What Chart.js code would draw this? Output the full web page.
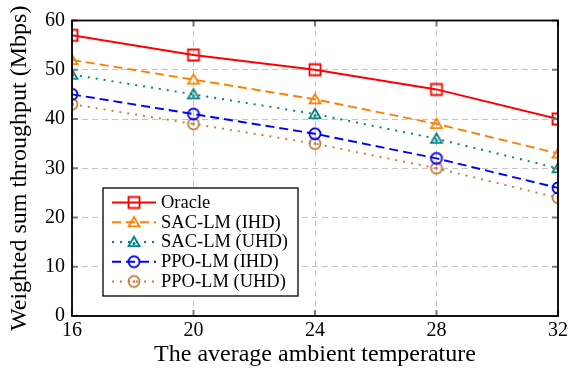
<!DOCTYPE html>
<html>
<head>
<meta charset="utf-8">
<script src="https://cdn.jsdelivr.net/npm/chart.js@4/dist/chart.umd.min.js"></script>
<style>
  html, body { margin: 0; padding: 0; background: #fff; }
  #wrap { width: 568px; height: 374px; position: relative; }
</style>
</head>
<body>
<div id="wrap"><canvas id="c" width="568" height="374"></canvas></div>
<script>
const temperatures = [16, 20, 24, 28, 32];
const oracle = [57, 53, 50, 46, 40];
const sacIHD = [52, 48, 44, 39, 33];
const sacUHD = [49, 45, 41, 36, 30];
const ppoIHD = [45, 41, 37, 32, 26];
const ppoUHD = [43, 39, 35, 30, 24];
const yTicks = [0, 10, 20, 30, 40, 50, 60];
const seriesNames = ['Oracle', 'SAC-LM (IHD)', 'SAC-LM (UHD)', 'PPO-LM (IHD)', 'PPO-LM (UHD)'];

const FONT = '"Liberation Serif", "Times New Roman", serif';

function makeMarker(shape, color, dot) {
  const s = 18, c = document.createElement('canvas');
  c.width = s; c.height = s;
  const g = c.getContext('2d');
  g.strokeStyle = color; g.lineWidth = 1.8;
  const m = s / 2;
  g.beginPath();
  if (shape === 'square') {
    g.rect(m - 5.5, m - 5.5, 11, 11);
  } else if (shape === 'triangle') {
    const r = 6.3;
    for (let i = 0; i < 3; i++) {
      const a = -Math.PI / 2 + i * 2 * Math.PI / 3;
      const x = m + r * Math.cos(a), y = m + 1 + r * Math.sin(a);
      if (i === 0) g.moveTo(x, y); else g.lineTo(x, y);
    }
    g.closePath();
  } else {
    g.arc(m, m, 5.5, 0, Math.PI * 2);
  }
  g.stroke();
  if (dot) {
    g.fillStyle = color;
    g.beginPath();
    g.arc(m, shape === 'triangle' ? m + 1.5 : m, 1.5, 0, Math.PI * 2);
    g.fill();
  }
  return c;
}

const styles = [
  { color: '#ff0000', dash: [], marker: makeMarker('square', '#ff0000', false) },
  { color: '#ff8000', dash: [9, 5], marker: makeMarker('triangle', '#ff8000', false) },
  { color: '#008080', dash: [2, 6], marker: makeMarker('triangle', '#008080', true) },
  { color: '#0000ff', dash: [9, 5], marker: makeMarker('circle', '#0000ff', false) },
  { color: '#bf8040', dash: [2, 6], marker: makeMarker('circle', '#bf8040', true) }
];
const seriesData = [oracle, sacIHD, sacUHD, ppoIHD, ppoUHD];

const datasets = seriesData.map((d, i) => ({
  label: seriesNames[i],
  data: temperatures.map((t, j) => ({ x: t, y: d[j] })),
  borderColor: styles[i].color,
  backgroundColor: 'rgba(0,0,0,0)',
  borderWidth: 1.9,
  borderDash: styles[i].dash,
  pointStyle: styles[i].marker,
  pointRadius: 6,
  tension: 0,
  fill: false
}));

const framePlugin = {
  id: 'frame',
  afterDraw(chart) {
    const { ctx, chartArea: a, scales } = chart;
    ctx.save();
    ctx.strokeStyle = '#7a7a7a';
    ctx.lineWidth = 2;
    ctx.setLineDash([]);
    const L = 6;
    temperatures.forEach(t => {
      const x = scales.x.getPixelForValue(t);
      ctx.beginPath();
      ctx.moveTo(x, a.bottom); ctx.lineTo(x, a.bottom - L);
      ctx.moveTo(x, a.top); ctx.lineTo(x, a.top + L);
      ctx.stroke();
    });
    yTicks.forEach(v => {
      const y = scales.y.getPixelForValue(v);
      ctx.beginPath();
      ctx.moveTo(a.left, y); ctx.lineTo(a.left + L, y);
      ctx.moveTo(a.right, y); ctx.lineTo(a.right - L, y);
      ctx.stroke();
    });
    ctx.strokeStyle = '#000';
    ctx.lineWidth = 1.8;
    ctx.strokeRect(a.left, a.top, a.right - a.left, a.bottom - a.top);

    const bx = 103, by = 188, bw = 195, bh = 108;
    ctx.fillStyle = '#fff';
    ctx.fillRect(bx, by, bw, bh);
    ctx.strokeStyle = '#000';
    ctx.lineWidth = 1.3;
    ctx.strokeRect(bx, by, bw, bh);
    ctx.font = '18.5px ' + FONT;
    ctx.textBaseline = 'middle';
    ctx.textAlign = 'left';
    for (let i = 0; i < seriesNames.length; i++) {
      const y = by + 14.5 + i * 19.75;
      ctx.strokeStyle = styles[i].color;
      ctx.lineWidth = 1.9;
      ctx.setLineDash(styles[i].dash);
      ctx.beginPath();
      ctx.moveTo(bx + 9, y); ctx.lineTo(bx + 53, y);
      ctx.stroke();
      ctx.setLineDash([]);
      const mk = styles[i].marker;
      ctx.drawImage(mk, bx + 31 - mk.width / 2, y - mk.height / 2);
      ctx.fillStyle = '#000';
      ctx.fillText(seriesNames[i], bx + 58, y + 0.5);
    }
    ctx.restore();
  }
};

new Chart(document.getElementById('c'), {
  type: 'line',
  data: { datasets },
  options: {
    responsive: false,
    animation: false,
    events: [],
    layout: { padding: { left: 0, right: 10, top: 20.5, bottom: 0 } },
    plugins: { legend: { display: false }, tooltip: { enabled: false } },
    scales: {
      x: {
        type: 'linear',
        min: 16, max: 32,
        afterBuildTicks(scale) { scale.ticks = temperatures.map(v => ({ value: v })); },
        afterFit(scale) { scale.height = 58; scale.paddingLeft = 0; scale.paddingRight = 0; },
        grid: { color: '#c4c4c4', lineWidth: 1, drawTicks: false },
        border: { display: false, dash: [6, 4] },
        ticks: { color: '#000', font: { family: FONT, size: 20 }, padding: 3, maxRotation: 0 },
        title: { display: true, text: 'The average ambient temperature', color: '#000',
                 font: { family: FONT, size: 24 }, padding: { top: 0, bottom: 5 } }
      },
      y: {
        min: 0, max: 60,
        afterBuildTicks(scale) { scale.ticks = yTicks.map(v => ({ value: v })); },
        afterFit(scale) { scale.width = 72; scale.paddingTop = 0; scale.paddingBottom = 0; },
        grid: { color: '#c4c4c4', lineWidth: 1, drawTicks: false },
        border: { display: false, dash: [6, 4] },
        ticks: { color: '#000', font: { family: FONT, size: 20 }, padding: 7 },
        title: { display: true, text: 'Weighted sum throughput (Mbps)', color: '#000',
                 font: { family: FONT, size: 24 }, padding: { top: 5, bottom: 0 } }
      }
    }
  },
  plugins: [framePlugin]
});
</script>
</body>
</html>
